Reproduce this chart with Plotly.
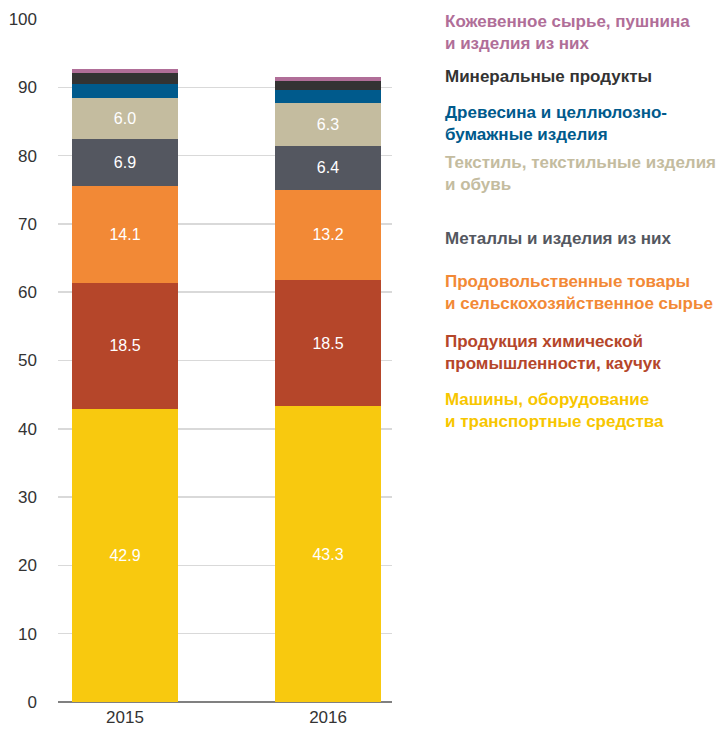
import plotly.graph_objects as go

years = ["2015", "2016"]
categories = [
    "Машины, оборудование<br>и транспортные средства",
    "Продукция химической<br>промышленности, каучук",
    "Продовольственные товары<br>и сельскохозяйственное сырье",
    "Металлы и изделия из них",
    "Текстиль, текстильные изделия<br>и обувь",
    "Древесина и целлюлозно-<br>бумажные изделия",
    "Минеральные продукты",
    "Кожевенное сырье, пушнина<br>и изделия из них",
]
values_2015 = [42.9, 18.5, 14.1, 6.9, 6.0, 2.1, 1.6, 0.6]
values_2016 = [43.3, 18.5, 13.2, 6.4, 6.3, 1.9, 1.3, 0.6]
show_label = [True, True, True, True, True, False, False, False]
colors = ["#F8C90F", "#B5462A", "#F28936", "#545760", "#C4BC9F", "#005A8C", "#333333", "#B06E98"]
legend_colors = ["#F7C600", "#B5462A", "#F28936", "#545760", "#C4BC9F", "#005A8C", "#333333", "#B06E98"]
yticks = [0, 10, 20, 30, 40, 50, 60, 70, 80, 90, 100]

FONT = "'Liberation Sans', Arial, sans-serif"
xpos = list(range(len(years)))

fig = go.Figure()
for i, cat in enumerate(categories):
    vals = [values_2015[i], values_2016[i]]
    txt = [f"{v:.1f}" if show_label[i] else "" for v in vals]
    fig.add_trace(go.Bar(
        x=xpos, y=vals, name=cat, marker_color=colors[i], marker_line_width=0,
        width=0.522, text=txt, textposition="inside", insidetextanchor="middle",
        textfont=dict(color="white", size=16, family=FONT), hoverinfo="skip",
        cliponaxis=False,
    ))

legend_y = [410, 352, 293, 238, 174, 123, 77, 32]
ann = []
for i, cat in enumerate(categories):
    ann.append(dict(
        text=f"<b>{cat}</b>", xref="paper", yref="paper",
        x=(443 - 58) / 334, y=(702 - legend_y[i]) / 683,
        xanchor="left", yanchor="middle", align="left", showarrow=False,
        font=dict(size=17, color=legend_colors[i], family=FONT),
    ))

fig.update_layout(
    barmode="stack", width=720, height=731,
    margin=dict(l=58, r=328, t=19, b=29, autoexpand=False),
    paper_bgcolor="white", plot_bgcolor="white",
    showlegend=False, annotations=ann,
    font=dict(family=FONT, color="#333333", size=17),
    bargap=0,
)
fig.update_xaxes(
    tickvals=xpos, ticktext=years, range=[-0.330, 1.315], automargin=False,
    showgrid=False, zeroline=False, showline=False,
    tickfont=dict(size=17, color="#333333", family=FONT), ticks="", ticklabelstandoff=3,
)
fig.update_yaxes(
    range=[0, 100], tickvals=yticks, showgrid=True, gridcolor="#D9D9D9", gridwidth=1.5,
    automargin=False,
    zeroline=True, zerolinecolor="#808080", zerolinewidth=2.5,
    tickfont=dict(size=17, color="#333333", family=FONT), ticks="", ticklabelstandoff=20,
    showline=False,
)
fig.write_html(
    "out.html",
    config={"displayModeBar": False, "staticPlot": True},
    post_script="document.body.style.margin='0';document.body.style.overflow='hidden';",
)
